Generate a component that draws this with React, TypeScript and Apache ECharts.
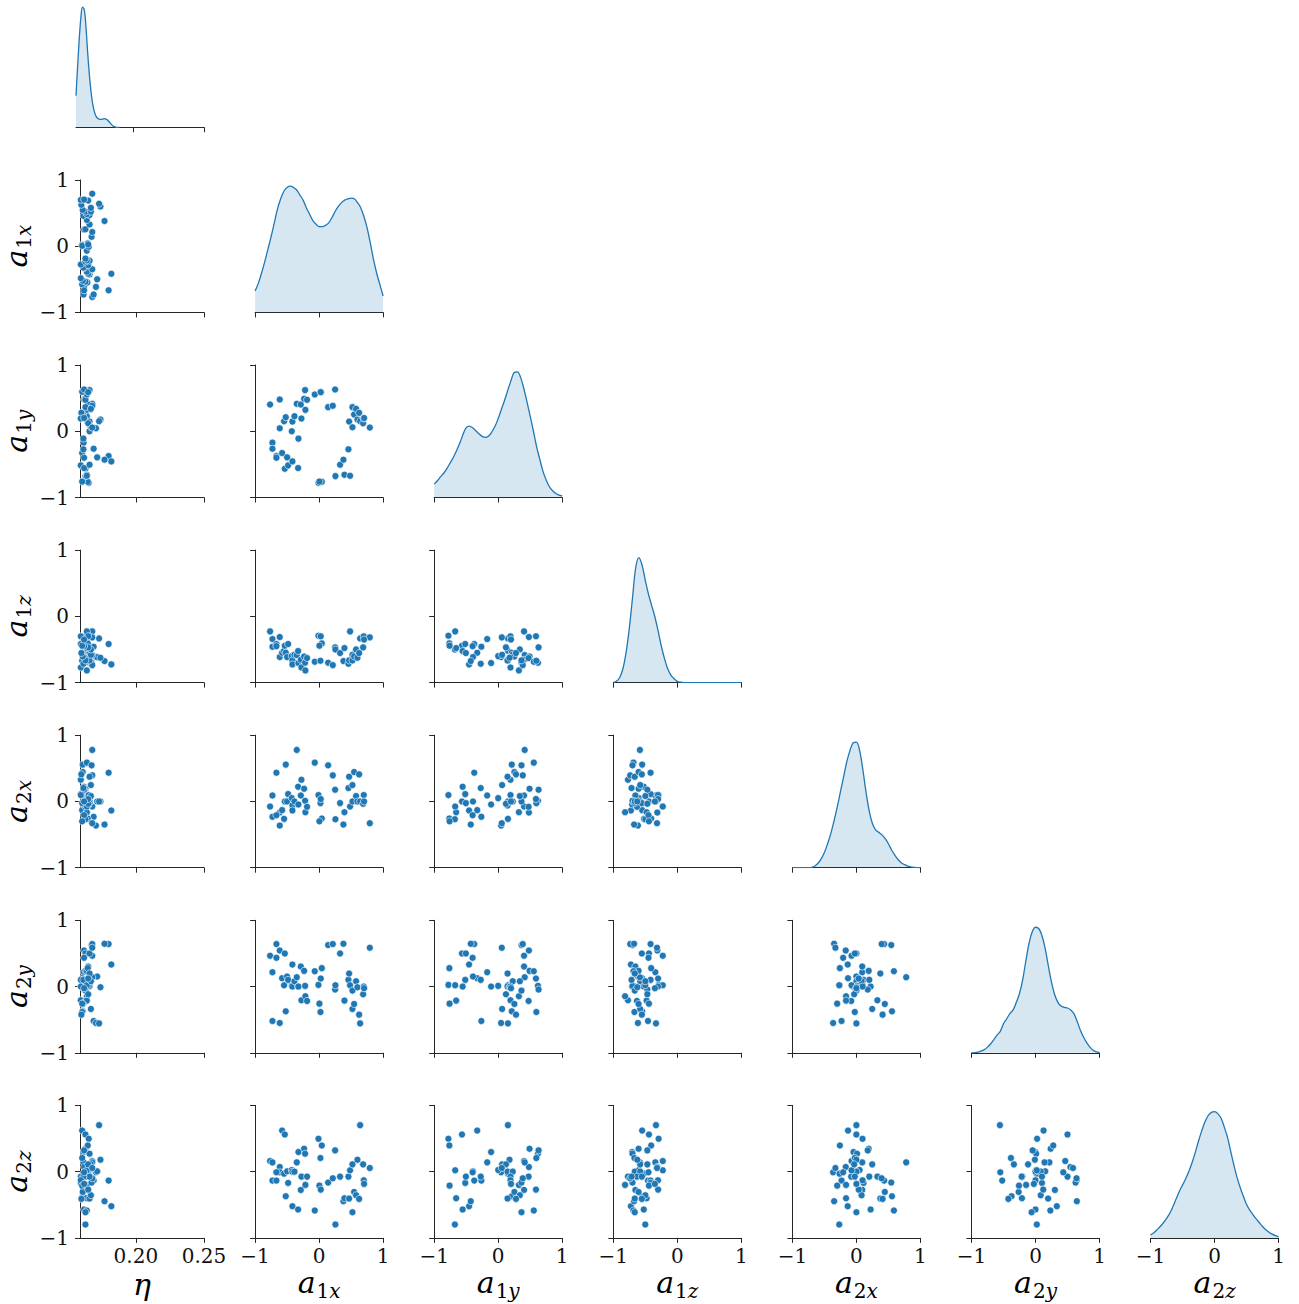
import React, { useEffect, useRef } from "react";
import * as echarts from "echarts";

// ---- samples (one entry per posterior sample) ----
const etaVals = [0.168, 0.1616, 0.169, 0.18, 0.162, 0.1707, 0.1606, 0.1644, 0.163, 0.161, 0.1716, 0.1596, 0.166, 0.165, 0.182, 0.164, 0.168, 0.162, 0.1615, 0.165, 0.1596, 0.163, 0.166, 0.164, 0.163, 0.164, 0.1654, 0.1606, 0.1647, 0.1675, 0.168, 0.162, 0.163, 0.166, 0.177, 0.164, 0.1615, 0.166, 0.164, 0.163, 0.167, 0.161, 0.167, 0.174, 0.16, 0.173, 0.165, 0.1596, 0.168, 0.162, 0.1606, 0.165, 0.162];
const a1xVals = [-0.766, -0.729, -0.729, -0.667, -0.615, -0.615, -0.578, -0.547, -0.536, -0.521, -0.5, -0.484, -0.427, -0.417, -0.417, -0.385, -0.349, -0.328, -0.323, -0.286, -0.276, -0.234, -0.219, -0.214, -0.188, -0.068, -0.01, 0.021, 0.042, 0.141, 0.214, 0.25, 0.255, 0.328, 0.38, 0.396, 0.458, 0.469, 0.484, 0.521, 0.521, 0.547, 0.578, 0.599, 0.625, 0.641, 0.688, 0.698, 0.792, -0.667, 0.005, 0.026, 0.703];
const a1yVals = [0.404, -0.172, -0.263, -0.374, 0.48, 0.045, -0.328, 0.152, -0.566, 0.212, -0.394, -0.515, 0.0, 0.146, -0.455, 0.227, 0.414, -0.556, -0.111, 0.404, 0.192, 0.49, 0.621, 0.323, 0.475, 0.556, -0.778, 0.596, -0.763, 0.364, 0.384, 0.631, -0.677, -0.505, -0.429, -0.657, -0.273, 0.146, -0.672, 0.364, 0.061, 0.253, 0.338, 0.177, 0.278, 0.152, 0.121, 0.192, 0.056, -0.4, -0.76, 0.59, 0.2];
const a1zVals = [-0.227, -0.343, -0.458, -0.418, -0.312, -0.615, -0.549, -0.52, -0.443, -0.549, -0.615, -0.418, -0.6, -0.665, -0.725, -0.579, -0.584, -0.524, -0.705, -0.655, -0.771, -0.605, -0.7, -0.816, -0.63, -0.685, -0.292, -0.67, -0.408, -0.7, -0.736, -0.468, -0.5, -0.554, -0.675, -0.479, -0.715, -0.665, -0.227, -0.665, -0.58, -0.605, -0.499, -0.625, -0.554, -0.333, -0.468, -0.302, -0.317, -0.45, -0.443, -0.3, -0.35];
const a2xVals = [-0.076, 0.091, -0.232, 0.434, -0.167, -0.364, -0.131, -0.263, 0.0, 0.556, 0.0, 0.111, 0.05, -0.06, -0.136, 0.0, 0.778, 0.222, -0.045, 0.091, 0.328, 0.192, 0.01, -0.162, -0.081, 0.586, 0.096, -0.025, -0.258, 0.545, 0.394, 0.177, -0.268, -0.025, -0.348, -0.162, 0.202, 0.374, -0.076, 0.0, 0.247, 0.444, 0.081, 0.0, 0.409, 0.0, -0.035, 0.096, -0.328, -0.207, -0.3, 0.036, 0.0];
const a2yVals = [0.465, 0.217, -0.52, 0.641, 0.545, -0.55, 0.126, 0.02, 0.5, -0.374, 0.152, 0.101, 0.01, 0.0, 0.333, 0.081, 0.141, 0.0, 0.0, 0.303, -0.207, 0.237, 0.01, -0.146, -0.217, 0.232, 0.025, -0.384, 0.278, 0.626, 0.641, -0.045, 0.02, 0.5, 0.646, -0.212, 0.101, 0.197, 0.02, -0.061, -0.338, -0.263, 0.081, -0.01, -0.424, -0.556, -0.116, 0.0, 0.586, 0.434, -0.258, 0.121, -0.025];
const a2zVals = [0.16, 0.14, -0.135, -0.135, 0.07, -0.01, 0.62, -0.03, 0.561, -0.371, 0.005, -0.17, 0.025, 0.0, -0.521, 0.0, 0.14, -0.571, 0.296, -0.276, -0.075, 0.346, 0.271, -0.2, -0.075, -0.586, 0.496, 0.206, 0.396, -0.165, -0.1, 0.321, -0.797, -0.075, -0.446, -0.401, -0.075, -0.406, 0.02, -0.612, 0.11, -0.306, -0.356, 0.18, -0.411, 0.702, 0.11, -0.13, 0.055, -0.01, -0.211, -0.271, -0.185];

// ---- diagonal density curves (relative height) ----
const etaKdeX = [0.159, 0.16, 0.1612, 0.1624, 0.1636, 0.1648, 0.166, 0.1672, 0.1684, 0.1696, 0.1708, 0.172, 0.1732, 0.1744, 0.1756, 0.1768, 0.178, 0.1792, 0.1804, 0.1816, 0.1828, 0.184, 0.1852, 0.1864, 0.1876, 0.19];
const etaKdeY = [0.26, 0.47, 0.71, 0.895, 0.99, 0.975, 0.842, 0.632, 0.447, 0.303, 0.197, 0.132, 0.092, 0.074, 0.066, 0.066, 0.068, 0.071, 0.068, 0.058, 0.042, 0.026, 0.013, 0.005, 0.0, 0.0];
const kdeGrid = Array.from({ length: 41 }, (_, i) => Math.round((-1 + i * 0.05) * 100) / 100);
const a1xKde = [0.17, 0.23, 0.31, 0.4, 0.5, 0.6, 0.71, 0.82, 0.9, 0.96, 0.99, 1.0, 0.99, 0.97, 0.93, 0.89, 0.83, 0.78, 0.73, 0.7, 0.68, 0.68, 0.69, 0.71, 0.75, 0.8, 0.84, 0.87, 0.89, 0.9, 0.905, 0.9, 0.87, 0.83, 0.76, 0.67, 0.55, 0.42, 0.31, 0.22, 0.13];
const a1yKde = [0.106, 0.133, 0.165, 0.194, 0.231, 0.274, 0.319, 0.372, 0.431, 0.5, 0.553, 0.566, 0.553, 0.529, 0.505, 0.484, 0.476, 0.487, 0.519, 0.564, 0.625, 0.7, 0.771, 0.851, 0.926, 0.99, 0.995, 0.952, 0.864, 0.758, 0.644, 0.527, 0.404, 0.303, 0.207, 0.138, 0.085, 0.053, 0.032, 0.019, 0.013];
const a1zKde = [0.0, 0.01, 0.04, 0.11, 0.24, 0.43, 0.67, 0.91, 0.99, 0.93, 0.81, 0.7, 0.61, 0.52, 0.41, 0.29, 0.19, 0.11, 0.06, 0.03, 0.01, 0.003, 0.0, 0, 0, 0, 0, 0, 0, 0, 0, 0, 0, 0, 0, 0, 0, 0, 0, 0, 0];
const a2xKde = [0, 0, 0, 0, 0, 0, 0.003, 0.013, 0.035, 0.07, 0.12, 0.19, 0.27, 0.37, 0.48, 0.6, 0.72, 0.84, 0.93, 0.99, 0.995, 0.93, 0.78, 0.6, 0.45, 0.35, 0.3, 0.28, 0.26, 0.23, 0.19, 0.14, 0.1, 0.065, 0.04, 0.025, 0.013, 0.007, 0.003, 0.001, 0.0];
const a2yKde = [0.0, 0.002, 0.006, 0.013, 0.025, 0.045, 0.072, 0.105, 0.14, 0.17, 0.23, 0.27, 0.31, 0.34, 0.4, 0.47, 0.58, 0.73, 0.87, 0.96, 0.995, 0.985, 0.93, 0.83, 0.69, 0.56, 0.46, 0.4, 0.37, 0.36, 0.355, 0.34, 0.31, 0.25, 0.18, 0.125, 0.08, 0.045, 0.02, 0.007, 0.002];
const a2zKde = [0.024, 0.04, 0.065, 0.09, 0.12, 0.155, 0.195, 0.25, 0.31, 0.37, 0.42, 0.47, 0.53, 0.6, 0.68, 0.77, 0.85, 0.92, 0.97, 0.995, 1.0, 0.985, 0.95, 0.88, 0.8, 0.69, 0.58, 0.48, 0.4, 0.33, 0.265, 0.22, 0.185, 0.15, 0.12, 0.09, 0.065, 0.045, 0.03, 0.018, 0.01];

const axisLabels = ["{i|η}", "{i|a}{s|1}{si|x}", "{i|a}{s|1}{si|y}", "{i|a}{s|1}{si|z}", "{i|a}{s|2}{si|x}", "{i|a}{s|2}{si|y}", "{i|a}{s|2}{si|z}"];
const etaRange = [0.159, 0.25];
const etaTicks = [0.2, 0.25];

const SERIF = "DejaVu Serif";
const BLUE = "#1f77b4";
const SPINE = "#262626";

function buildOption() {
  const vars = [etaVals, a1xVals, a1yVals, a1zVals, a2xVals, a2yVals, a2zVals];
  const kdes = [null, a1xKde, a1yKde, a1zKde, a2xKde, a2yKde, a2zKde];
  const n = 7;
  const grids: any[] = [];
  const xAxes: any[] = [];
  const yAxes: any[] = [];
  const series: any[] = [];
  const rich = {
    i: { fontFamily: SERIF, fontStyle: "italic", fontSize: 30, color: "#000" },
    s: { fontFamily: SERIF, fontSize: 20, color: "#000", padding: [16, 0, 0, 1] },
    si: { fontFamily: SERIF, fontStyle: "italic", fontSize: 20, color: "#000", padding: [16, 0, 0, 0] },
  };
  const fmt = (v: number) => (v < 0 ? "\u2212" + Math.abs(v) : String(v));
  const tickStyle = { color: SPINE, width: 1 };
  let k = 0;
  for (let r = 0; r < n; r++) {
    for (let c = 0; c <= r; c++) {
      grids.push({ left: 76 + 179.1 * c, top: -5.2 + 185.1 * r, width: 128, height: 132.5 });
      const isEta = c === 0;
      const bottom = r === n - 1;
      xAxes.push({
        gridIndex: k,
        type: "value",
        min: isEta ? etaRange[0] : -1,
        max: isEta ? etaRange[1] : 1,
        interval: isEta ? undefined : 1,
        axisLine: { show: true, onZero: false, lineStyle: tickStyle },
        axisTick: { show: true, length: 5, lineStyle: tickStyle, customValues: isEta ? etaTicks : undefined },
        axisLabel: {
          show: bottom,
          customValues: isEta ? etaTicks : undefined,
          formatter: isEta ? (v: number) => v.toFixed(2) : fmt,
          fontFamily: SERIF,
          fontSize: 20,
          color: "#111",
          margin: 8,
        },
        splitLine: { show: false },
        name: bottom ? axisLabels[c] : "",
        nameLocation: "middle",
        nameGap: isEta ? 32 : 27,
        nameTextStyle: { rich, fontFamily: SERIF },
      });
      if (r === c) {
        yAxes.push({ gridIndex: k, type: "value", show: false, min: 0, max: 1.05 });
        const xs = isEta ? etaKdeX : kdeGrid;
        const ys = isEta ? etaKdeY : (kdes[c] as number[]);
        series.push({
          type: "line",
          xAxisIndex: k,
          yAxisIndex: k,
          data: xs.map((x, i) => [x, ys[i]]),
          smooth: 0.35,
          symbol: "none",
          silent: true,
          lineStyle: { color: BLUE, width: 1.3 },
          areaStyle: { color: "rgba(31,119,180,0.25)" },
        });
      } else {
        yAxes.push({
          gridIndex: k,
          type: "value",
          min: -1,
          max: 1,
          interval: 1,
          axisLine: { show: true, onZero: false, lineStyle: tickStyle },
          axisTick: { show: true, length: 5, lineStyle: tickStyle },
          axisLabel: { show: c === 0, formatter: fmt, fontFamily: SERIF, fontSize: 20, color: "#111", margin: 11 },
          splitLine: { show: false },
          name: c === 0 ? axisLabels[r] : "",
          nameLocation: "middle",
          nameGap: 46,
          nameTextStyle: { rich, fontFamily: SERIF },
        });
        const xv = vars[c];
        const yv = vars[r];
        series.push({
          type: "scatter",
          xAxisIndex: k,
          yAxisIndex: k,
          data: xv.map((x, i) => [x, yv[i]]),
          symbolSize: 7,
          silent: true,
          itemStyle: { color: BLUE, borderColor: "#ffffff", borderWidth: 0.6, opacity: 1 },
        });
      }
      k++;
    }
  }
  return {
    animation: false,
    backgroundColor: "#ffffff",
    textStyle: { fontFamily: SERIF },
    grid: grids,
    xAxis: xAxes,
    yAxis: yAxes,
    series,
  };
}

export default function App() {
  const ref = useRef<HTMLDivElement>(null);
  useEffect(() => {
    document.body.style.margin = "0";
    const chart = echarts.init(ref.current as HTMLDivElement, undefined, { renderer: "svg" });
    chart.setOption(buildOption() as any);
    return () => chart.dispose();
  }, []);
  return <div ref={ref} style={{ position: "absolute", left: 0, top: 0, width: 1299, height: 1304 }} />;
}
